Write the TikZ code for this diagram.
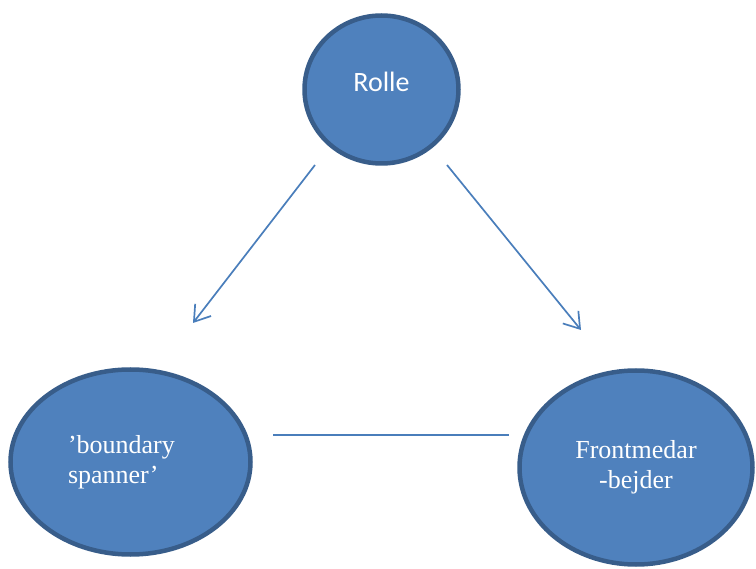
\documentclass[tikz,border=0pt]{standalone}
\usepackage{fontspec}
\setmainfont{Liberation Serif}
\newfontfamily\carlito{Carlito}
\usetikzlibrary{arrows.meta, positioning, shapes.geometric}
\definecolor{fillblue}{HTML}{4F81BD}
\definecolor{edgeblue}{HTML}{385D8A}
\definecolor{lineblue}{HTML}{4A7EBB}

\begin{document}
\begin{tikzpicture}[x=1pt, y=-1pt,
        oval/.style={ellipse, draw=edgeblue, fill=fillblue, line width=4.5pt, text=white, font=\fontsize{26}{30}\selectfont},
        link/.style={lineblue, line width=1.7pt},
        arr/.style={link, -{Straight Barb[length=15pt, width=20pt]}}
    ]
        \useasboundingbox (0,0) rectangle (756,569);

        % De tre ellipser
        \node [oval, minimum width=154pt, minimum height=148pt, text depth=15pt, font=\carlito\fontsize{28}{30}\selectfont] (rolle) at (381.5,89.5) {Rolle};
        \node [oval, minimum width=240pt, minimum height=185pt, text width=125pt, align=left] (boundary) at (130.5,462) {’boundary\\spanner’};
        \node [oval, minimum width=233pt, minimum height=194pt, align=center] (front) at (636,467.5) {Frontmedar\\-bejder};

        % Frie endepunkter
        \coordinate (rolleL) at (315,165);
        \coordinate (rolleR) at (447,165);
        \coordinate (boundaryT) at (193,323);
        \coordinate (frontT) at (581,330);
        \coordinate (boundaryR) at (273,435);
        \coordinate (frontL) at (509,435);

        % Pile og linje
        \draw[arr] (rolleL) -- (boundaryT);
        \draw[arr] (rolleR) -- (frontT);
        \draw[link] (boundaryR) -- (frontL);
    \end{tikzpicture}
\end{document}
